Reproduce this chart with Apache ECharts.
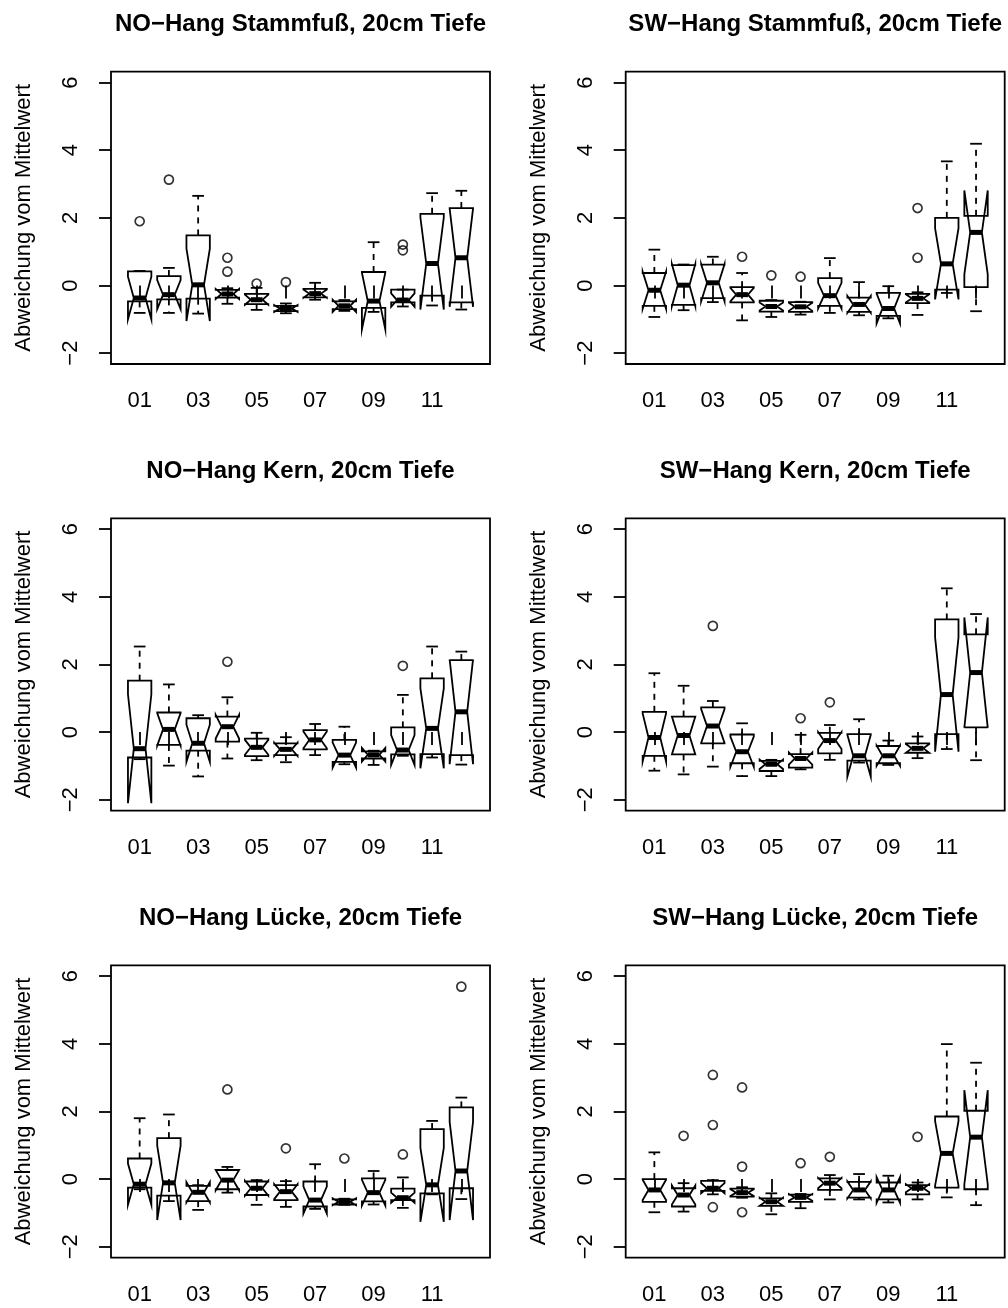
<!DOCTYPE html>
<html><head><meta charset="utf-8">
<script src="https://cdn.jsdelivr.net/npm/echarts@6/dist/echarts.min.js"></script>
<style>html,body{margin:0;padding:0;background:#fff}#c{width:1008px;height:1308px}</style>
</head><body><div id="c"></div>
<script>
// ---- categories / tick labels ----
const months = ['01','02','03','04','05','06','07','08','09','10','11','12'];
const xLabelPositions = [1,3,5,7,9,11];
const xTickPositions = [1,2,3,4,5,6,7,8,9,10,11,12];
const yTicks = [-2,0,2,4,6];
const yTitle = 'Abweichung vom Mittelwert';
const titles = [
  'NO\u2212Hang Stammfuß, 20cm Tiefe', 'SW\u2212Hang Stammfuß, 20cm Tiefe',
  'NO\u2212Hang Kern, 20cm Tiefe', 'SW\u2212Hang Kern, 20cm Tiefe',
  'NO\u2212Hang Lücke, 20cm Tiefe', 'SW\u2212Hang Lücke, 20cm Tiefe'
];

// ---- box statistics per month: [lower whisker, Q1, median, Q3, upper whisker, notch half-width] ----
const noStamm = [
  [-0.81,-0.47,-0.37,0.42,0.43,0.63],
  [-0.81,-0.41,-0.27,0.28,0.52,0.43],
  [-0.83,-0.39,0.02,1.48,2.65,1.07],
  [-0.54,-0.36,-0.25,-0.13,-0.08,0.15],
  [-0.72,-0.55,-0.42,-0.25,-0.07,0.15],
  [-0.82,-0.76,-0.68,-0.60,-0.53,0.10],
  [-0.42,-0.35,-0.24,-0.10,0.08,0.12],
  [-0.75,-0.70,-0.60,-0.47,-0.43,0.18],
  [-0.78,-0.66,-0.46,0.40,1.28,0.84],
  [-0.62,-0.50,-0.43,-0.12,-0.12,0.20],
  [-0.59,-0.30,0.65,2.12,2.73,1.36],
  [-0.71,-0.50,0.82,2.29,2.80,1.45]
];
const noStammOut = [[1,1.90],[2,3.13],[4,0.82],[4,0.41],[5,0.06],[6,0.10],[10,1.21],[10,1.04]];

const swStamm = [
  [-0.93,-0.60,-0.14,0.37,1.06,0.55],
  [-0.73,-0.57,0.01,0.60,0.62,0.62],
  [-0.49,-0.37,0.08,0.62,0.85,0.55],
  [-1.03,-0.50,-0.27,-0.05,0.37,0.20],
  [-0.93,-0.77,-0.62,-0.45,-0.43,0.12],
  [-0.86,-0.78,-0.63,-0.49,-0.48,0.12],
  [-0.81,-0.60,-0.30,0.22,0.81,0.38],
  [-0.88,-0.78,-0.56,-0.36,0.10,0.25],
  [-0.97,-0.90,-0.68,-0.22,-0.02,0.44],
  [-0.87,-0.52,-0.38,-0.25,-0.20,0.12],
  [-0.22,-0.12,0.64,2.00,3.67,1.05],
  [-0.76,-0.05,1.57,2.06,4.19,1.24]
];
const swStammOut = [[4,0.85],[5,0.30],[6,0.26],[10,2.29],[10,0.82]];

const noKern = [
  [-0.80,-0.75,-0.49,1.52,2.53,1.61],
  [-0.99,-0.38,0.08,0.58,1.41,0.48],
  [-1.31,-0.55,-0.33,0.41,0.50,0.55],
  [-0.78,-0.28,0.16,0.46,1.03,0.35],
  [-0.83,-0.71,-0.45,-0.19,-0.02,0.22],
  [-0.89,-0.68,-0.51,-0.33,-0.15,0.20],
  [-0.68,-0.51,-0.23,0.06,0.24,0.25],
  [-0.95,-0.88,-0.68,-0.23,0.16,0.37],
  [-0.97,-0.78,-0.67,-0.57,-0.55,0.20],
  [-0.70,-0.66,-0.53,0.14,1.10,0.44],
  [-0.75,-0.65,0.11,1.59,2.53,1.18],
  [-0.96,-0.68,0.60,2.13,2.38,1.55]
];
const noKernOut = [[4,2.08],[10,1.96]];

const swKern = [
  [-1.14,-0.70,-0.16,0.60,1.74,0.71],
  [-1.25,-0.66,-0.10,0.46,1.37,0.56],
  [-1.02,-0.33,0.18,0.73,0.92,0.50],
  [-1.30,-0.92,-0.58,-0.07,0.26,0.45],
  [-1.30,-1.15,-0.95,-0.85,-0.82,0.14],
  [-1.10,-1.05,-0.78,-0.65,-0.08,0.18],
  [-0.82,-0.63,-0.25,-0.02,0.21,0.25],
  [-0.90,-0.84,-0.70,-0.06,0.38,0.62],
  [-0.97,-0.92,-0.70,-0.41,-0.25,0.30],
  [-0.77,-0.61,-0.48,-0.33,-0.13,0.13],
  [-0.50,-0.06,1.11,3.33,4.25,1.69],
  [-0.83,0.14,1.76,2.89,3.49,1.63]
];
const swKernOut = [[3,3.14],[6,0.41],[7,0.88]];

const noLuecke = [
  [-0.30,-0.25,-0.15,0.61,1.80,0.61],
  [-0.65,-0.49,-0.11,1.21,1.91,1.10],
  [-0.91,-0.65,-0.39,-0.20,-0.18,0.30],
  [-0.40,-0.30,-0.03,0.27,0.36,0.30],
  [-0.76,-0.47,-0.27,-0.07,-0.03,0.22],
  [-0.82,-0.62,-0.37,-0.18,-0.06,0.22],
  [-0.88,-0.81,-0.62,-0.07,0.44,0.40],
  [-0.76,-0.75,-0.67,-0.60,-0.58,0.10],
  [-0.75,-0.66,-0.40,0.02,0.24,0.38],
  [-0.85,-0.62,-0.55,-0.28,0.05,0.15],
  [-0.45,-0.42,-0.17,1.48,1.72,1.09],
  [-0.59,-0.27,0.24,2.12,2.41,1.45]
];
const noLueckeOut = [[4,2.65],[6,0.91],[8,0.61],[10,0.73],[12,5.69]];

const swLuecke = [
  [-0.98,-0.67,-0.32,0.00,0.79,0.30],
  [-0.96,-0.81,-0.47,-0.27,-0.12,0.28],
  [-0.45,-0.35,-0.27,-0.05,-0.03,0.15],
  [-0.55,-0.52,-0.40,-0.28,-0.24,0.10],
  [-1.04,-0.79,-0.67,-0.57,-0.42,0.12],
  [-0.86,-0.67,-0.54,-0.46,-0.44,0.10],
  [-0.60,-0.32,-0.12,0.02,0.12,0.15],
  [-0.60,-0.55,-0.32,-0.08,0.15,0.25],
  [-0.69,-0.60,-0.32,-0.10,0.10,0.38],
  [-0.60,-0.45,-0.27,-0.18,-0.10,0.12],
  [-0.54,-0.25,0.76,1.85,3.99,0.95],
  [-0.77,-0.30,1.24,2.02,3.44,1.39]
];
const swLueckeOut = [[2,1.28],[3,3.08],[3,1.60],[3,-0.83],[4,2.71],[4,0.37],[4,-0.98],[6,0.47],[7,0.66],[10,1.25]];

// ---- layout ----
const boxSets = [noStamm, swStamm, noKern, swKern, noLuecke, swLuecke];
const outSets = [noStammOut, swStammOut, noKernOut, swKernOut, noLueckeOut, swLueckeOut];
const LEFTS = [111, 625.7];
const TOPS = [71.7, 518.3, 965.3];
const GW = 379, GH = 292.3;
const LW = 1.8;
const FS = 22;
const FONT = 'Liberation Sans, Arial, Helvetica, sans-serif';

function renderBox(params, api) {
  const x = api.value(0), lo = api.value(1), q1 = api.value(2), md = api.value(3),
        q3 = api.value(4), hi = api.value(5), c = api.value(6);
  const nl = md - c, nh = md + c;
  const P = (dx, v) => api.coord([x + dx, v]);
  const seg = (a, b, w, dash) => {
    const st = {stroke: '#000', lineWidth: w};
    if (dash) st.lineDash = dash;
    return {type: 'line', shape: {x1: a[0], y1: a[1], x2: b[0], y2: b[1]}, style: st};
  };
  return {type: 'group', children: [
    seg(P(0, q3), P(0, hi), LW, [6, 6]),
    seg(P(0, q1), P(0, lo), LW, [6, 6]),
    seg(P(-0.2, hi), P(0.2, hi), LW),
    seg(P(-0.2, lo), P(0.2, lo), LW),
    {type: 'polygon', shape: {points: [P(-0.4,q1),P(0.4,q1),P(0.4,nl),P(0.2,md),P(0.4,nh),P(0.4,q3),P(-0.4,q3),P(-0.4,nh),P(-0.2,md),P(-0.4,nl)]},
     style: {fill: 'none', stroke: '#000', lineWidth: LW, lineJoin: 'miter'}},
    seg(P(-0.2, md), P(0.2, md), 5)
  ]};
}

const grid = [], xAxis = [], yAxis = [], series = [], graphic = [];
for (let i = 0; i < 6; i++) {
  const col = i % 2, row = Math.floor(i / 2);
  const left = LEFTS[col], top = TOPS[row];
  grid.push({left: left, top: top, width: GW, height: GH, show: true, borderColor: '#000', borderWidth: LW, backgroundColor: 'transparent', containLabel: false});
  xAxis.push({type: 'value', gridIndex: i, min: 0.02, max: 12.98,
    axisLine: {show: false}, splitLine: {show: false},
    axisTick: {show: true, length: 13, customValues: xTickPositions, lineStyle: {color: '#000', width: LW}},
    axisLabel: {show: true, customValues: xLabelPositions, margin: 26, color: '#000', fontSize: FS, fontFamily: FONT,
      formatter: v => months[Math.round(v) - 1]}
  });
  yAxis.push({type: 'value', gridIndex: i, min: -2.32, max: 6.32,
    name: yTitle, nameLocation: 'middle', nameGap: 76, nameRotate: 90,
    nameTextStyle: {color: '#000', fontSize: FS, fontFamily: FONT},
    axisLine: {show: false}, splitLine: {show: false},
    axisTick: {show: true, length: 12, customValues: yTicks, lineStyle: {color: '#000', width: LW}},
    axisLabel: {show: true, customValues: yTicks, rotate: 90, margin: 29, color: '#000', fontSize: FS, fontFamily: FONT,
      formatter: v => String(v).replace('-', '\u2212')}
  });
  series.push({type: 'custom', xAxisIndex: i, yAxisIndex: i, renderItem: renderBox, clip: false,
    encode: {x: 0, y: [1, 2, 3, 4, 5]},
    data: boxSets[i].map((r, k) => [k + 1].concat(r))});
  series.push({type: 'scatter', xAxisIndex: i, yAxisIndex: i, symbol: 'circle', symbolSize: 9,
    itemStyle: {color: 'rgba(0,0,0,0)', borderColor: '#000', borderWidth: 1.7},
    data: outSets[i]});
  graphic.push({type: 'text', x: left + GW / 2, y: top - 47,
    style: {text: titles[i], fill: '#000', font: 'bold 24px ' + FONT, textAlign: 'center', textVerticalAlign: 'middle'}});
}

const chart = echarts.init(document.getElementById('c'), null, {renderer: 'canvas'});
chart.setOption({animation: false, backgroundColor: '#fff', grid, xAxis, yAxis, series, graphic});
</script></body></html>
